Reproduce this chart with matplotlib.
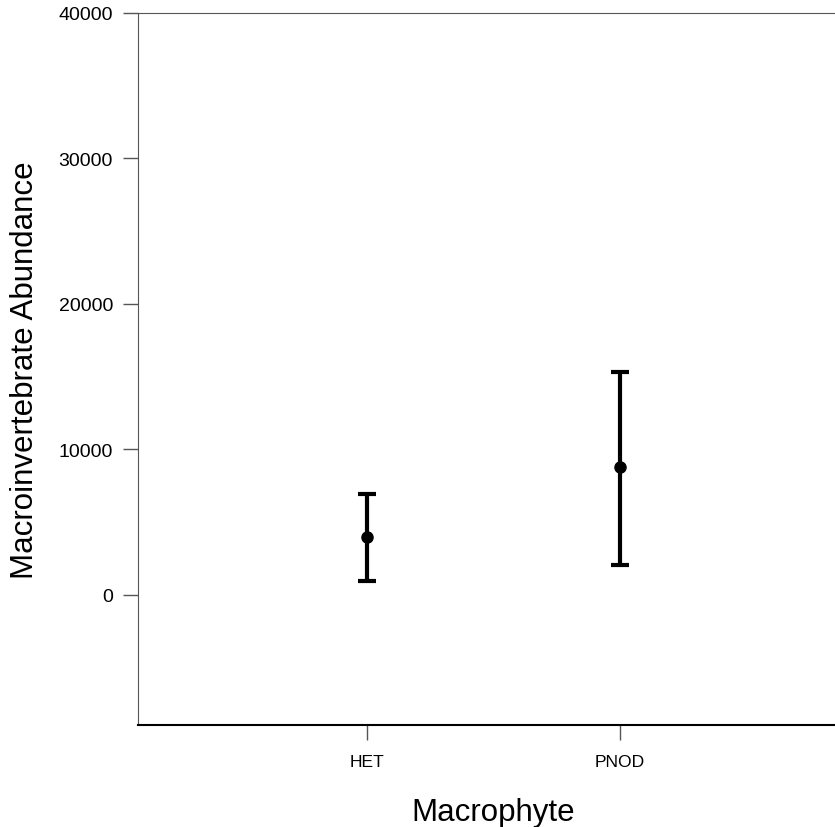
import matplotlib
matplotlib.use("Agg")
import matplotlib.pyplot as plt

plt.rcParams['font.family'] = ['Liberation Sans', 'DejaVu Sans']

groups = ["HET", "PNOD"]
means = [3965, 8780]
upper = [6920, 15350]
lower = [980, 2080]

xpos = [1, 2]
err_lo = [m - l for m, l in zip(means, lower)]
err_hi = [u - m for m, u in zip(means, upper)]

fig = plt.figure(figsize=(8.35, 8.28), dpi=100)
# the frame runs a little past the right edge of the picture
ax = fig.add_axes([0.1653, 0.1232, 0.8515, 0.8599])

ax.errorbar(xpos, means, yerr=[err_lo, err_hi], fmt='o', color='black',
            markersize=8, elinewidth=3, capsize=6.5, capthick=3)

ax.set_xlim(1 - 229 / 253, 2 + 229 / 253)
ax.set_ylim(-8935, 40000)
ax.set_xticks(xpos)
ax.set_xticklabels(groups)
ax.set_yticks([0, 10000, 20000, 30000, 40000])

ax.spines['right'].set_visible(False)
ax.spines['top'].set_color('#555555')
ax.spines['left'].set_color('#555555')
ax.spines['bottom'].set_color('black')
ax.spines['bottom'].set_linewidth(1.5)
ax.tick_params(axis='y', length=11, width=1, color='#555555', labelsize=14, pad=7)
ax.tick_params(axis='x', length=11, width=1, color='#555555', labelsize=12.6, pad=10)

ax.set_ylabel("Macroinvertebrate Abundance", fontsize=22.5, labelpad=13)
ax.set_xlabel("Macrophyte", fontsize=22.5, labelpad=20)

fig.savefig("out.png", dpi=100)
